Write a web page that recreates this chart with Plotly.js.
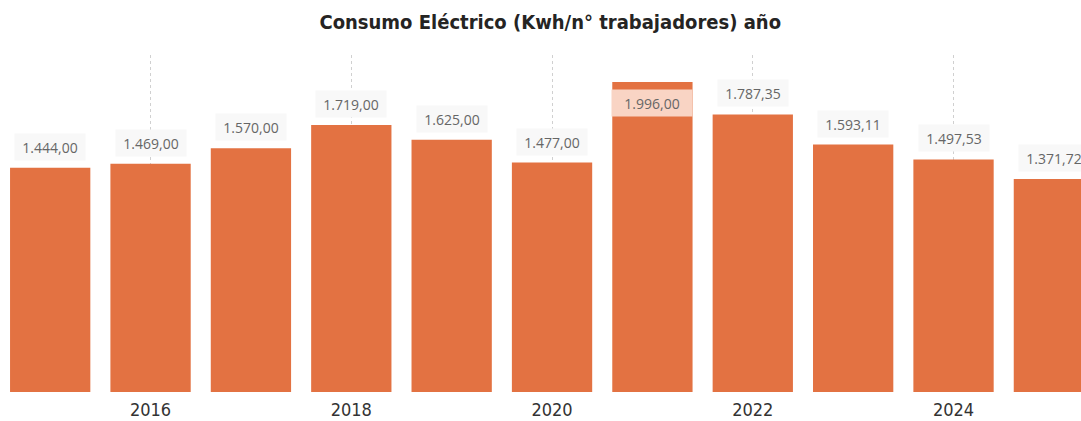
<!DOCTYPE html>
<html>
<head>
<meta charset="utf-8">
<script src="https://cdn.plot.ly/plotly-3.0.1.min.js"></script>
<style>
html,body{margin:0;padding:0;background:#fff;}
#chart{width:1081px;height:421px;}
</style>
</head>
<body>
<div id="chart"></div>
<script>
const years = [2015, 2016, 2017, 2018, 2019, 2020, 2021, 2022, 2023, 2024, 2025];
const consumo = [1444.00, 1469.00, 1570.00, 1719.00, 1625.00, 1477.00, 1996.00, 1787.35, 1593.11, 1497.53, 1371.72];
const tickYears = [2016, 2018, 2020, 2022, 2024];

const yMax = 2170;

function fmt(v) {
  const parts = v.toFixed(2).split('.');
  const intPart = parts[0].replace(/\B(?=(\d{3})+(?!\d))/g, '.');
  return intPart + ',' + parts[1];
}

const annotations = years.map((yr, i) => {
  const v = consumo[i];
  const inside = v / yMax > 0.9;
  return {
    x: yr, y: v, xref: 'x', yref: 'y',
    text: fmt(v),
    showarrow: false,
    yanchor: 'middle',
    yshift: inside ? -21 : 21,
    font: {family: 'Open Sans, Noto Sans, sans-serif', size: 14, color: '#666666'},
    bgcolor: inside ? '#f9d4c4' : '#f8f8f8',
    width: inside ? 76 : 66,
    height: 22,
    borderpad: 2
  };
});

const trace = {
  type: 'bar',
  x: years,
  y: consumo,
  marker: {color: '#e37242'},
  hoverinfo: 'x+y'
};

const layout = {
  width: 1081, height: 421,
  margin: {l: 0, r: 0, t: 55, b: 29, pad: 0},
  paper_bgcolor: '#ffffff',
  plot_bgcolor: '#ffffff',
  bargap: 0.2,
  showlegend: false,
  title: {
    text: '<b>Consumo Eléctrico (Kwh/n° trabajadores) año</b>',
    x: 0.509, xanchor: 'center',
    y: 1 - 22/421, yanchor: 'middle', yref: 'container',
    font: {family: 'DejaVu Sans Condensed, Liberation Sans Narrow, sans-serif', size: 20, color: '#252423'}
  },
  xaxis: {
    range: [2014.5, 2025.27],
    tickmode: 'array',
    tickvals: tickYears,
    ticktext: tickYears.map(String),
    showgrid: true,
    gridcolor: '#d0d0d0',
    griddash: 'dot',
    gridwidth: 1,
    zeroline: false,
    showline: false,
    ticks: 'outside',
    ticklen: 1,
    tickcolor: 'rgba(0,0,0,0)',
    tickfont: {family: 'DejaVu Sans Condensed, sans-serif', size: 18, color: '#333333'},
    fixedrange: true
  },
  yaxis: {
    range: [0, yMax],
    showgrid: false,
    zeroline: false,
    showline: false,
    showticklabels: false,
    ticks: '',
    fixedrange: true
  },
  annotations: annotations
};

Plotly.newPlot('chart', [trace], layout, {displayModeBar: false, staticPlot: true});
</script>
</body>
</html>
